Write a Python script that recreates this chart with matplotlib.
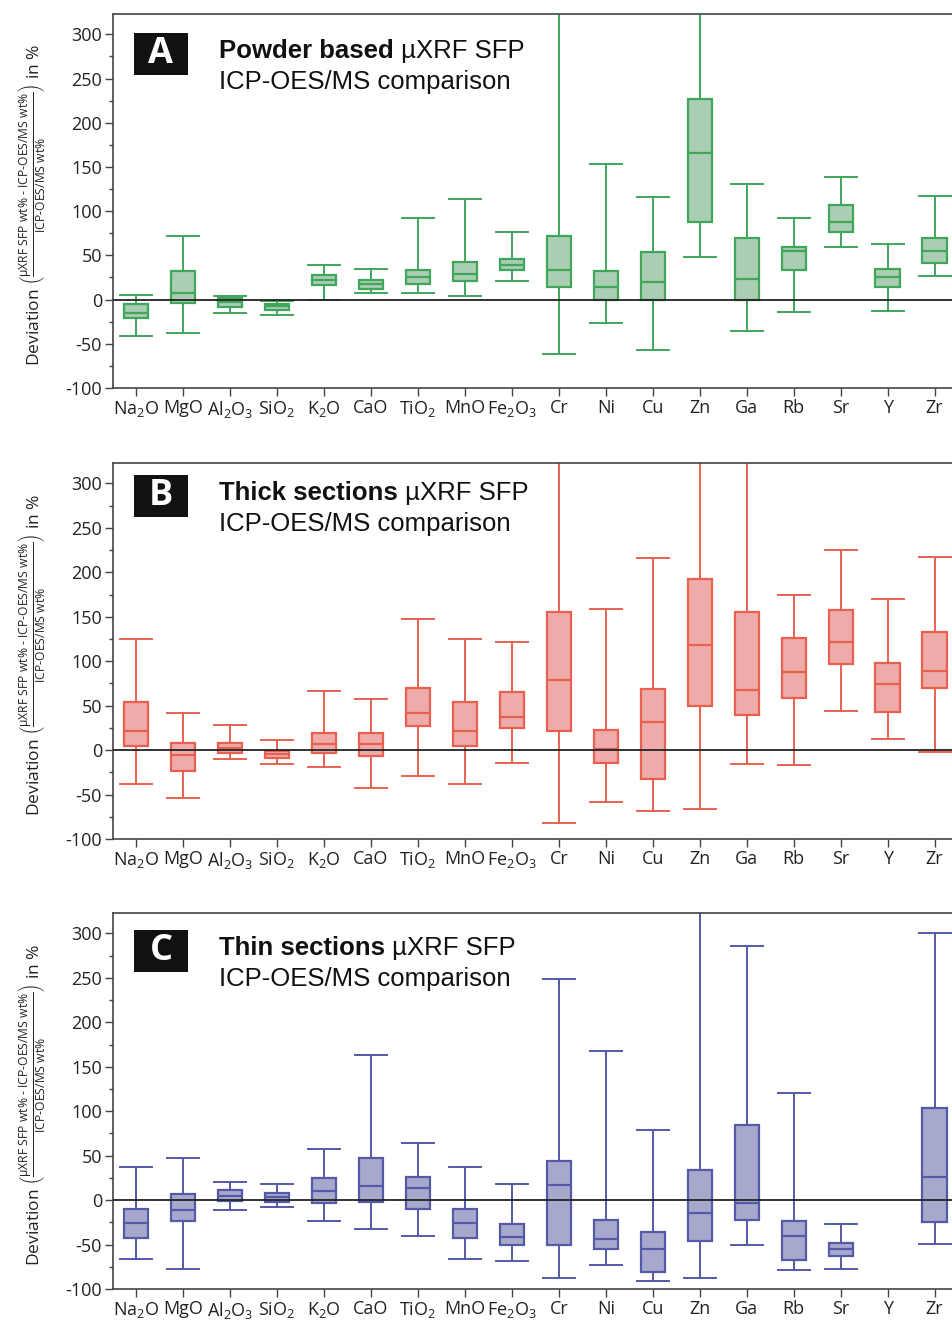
import numpy as np
import matplotlib
matplotlib.use("Agg")
import matplotlib.pyplot as plt
from matplotlib.patches import Rectangle

plt.rcParams['font.family'] = ['Open Sans', 'DejaVu Sans']
plt.rcParams['mathtext.fontset'] = 'custom'
plt.rcParams['mathtext.rm'] = 'Open Sans'
plt.rcParams['mathtext.it'] = 'Open Sans:italic'
plt.rcParams['mathtext.bf'] = 'Open Sans:bold'
plt.rcParams['axes.unicode_minus'] = False

categories = ["Na$_2$O", "MgO", "Al$_2$O$_3$", "SiO$_2$", "K$_2$O", "CaO", "TiO$_2$",
              "MnO", "Fe$_2$O$_3$", "Cr", "Ni", "Cu", "Zn", "Ga", "Rb", "Sr", "Y", "Zr"]

# panel A - powder based (low whisker, q1, median, q3, high whisker)
powder_low = [-41, -38, -15, -17, 0, 7, 7, 4.5, 21, -62, -27, -57, 48, -36, -14, 59, -13, 27]
powder_q1 = [-21, -4, -8, -12, 16.5, 12, 18, 21, 33, 14, 0, 0, 88, 0, 34, 77, 14, 41]
powder_med = [-15, 8, -2.6, -7, 22.5, 18, 25.5, 29, 39, 34, 14, 19.5, 166, 23, 55.5, 87.5, 25, 55]
powder_q3 = [-5, 32, 2, -4.5, 28, 22.5, 34, 42.5, 45.5, 71.5, 32, 54, 227, 70, 60, 107, 35, 70]
powder_high = [5, 72, 4, -2, 39, 34.5, 92, 113.5, 77, 400, 153, 116.5, 400, 130.5, 92.5, 139, 62.5, 117]

# panel B - thick sections
thick_low = [-38, -54, -10, -16, -19.5, -43, -29, -38, -15, -82, -58, -69, -66.5, -16, -17, 44, 13, -2]
thick_q1 = [5, -24, -3.5, -9, -3.5, -6.5, 27, 5, 25, 21, -15, -32, 50, 39.5, 58.5, 97, 42.5, 70]
thick_med = [22, -6, 2.5, -4, 7, 6.5, 42, 22, 37, 79, 1, 31.5, 118.5, 67.5, 88, 122, 74, 89.5]
thick_q3 = [54, 7.5, 8.5, -1, 19, 19.5, 70, 54, 65.5, 155, 23, 69, 192, 155, 126, 157.5, 98, 132.5]
thick_high = [124.5, 42, 28, 11.5, 67, 57, 148, 124.5, 122, 400, 158.5, 216, 400, 400, 174, 225.5, 169.5, 217.5]

# panel C - thin sections (no Y data)
thin_low = [-66.5, -77, -11, -8, -24, -32.5, -40, -66.5, -68, -88, -73, -91.5, -88, -50.5, -78.5, -78, np.nan, -49.5]
thin_q1 = [-43, -23.5, -1.5, -2.5, -3, -2.5, -10.5, -43, -51, -50, -55, -80.5, -45.5, -22, -67.5, -62.5, np.nan, -25]
thin_med = [-25.5, -11.5, 4.5, 3, 10, 16, 13.5, -25.5, -41.5, 17.5, -43.5, -54.5, -14.5, -3.5, -40, -54.5, np.nan, 26.5]
thin_q3 = [-10, 7, 11, 7.5, 24.5, 47, 25.5, -10, -27, 43.5, -22.5, -35.5, 34, 84, -23, -48.5, np.nan, 104]
thin_high = [37, 47.5, 20, 18.5, 57, 163, 64, 37, 18, 249, 167.5, 78.5, 400, 286, 121, -26.5, np.nan, 300]

panels = [
    ("A", "Powder based", powder_low, powder_q1, powder_med, powder_q3, powder_high,
     "#3fa65a", "#aacdb3", 44),
    ("B", "Thick sections", thick_low, thick_q1, thick_med, thick_q3, thick_high,
     "#e8604f", "#eeabaa", 37),
    ("C", "Thin sections", thin_low, thin_q1, thin_med, thin_q3, thin_high,
     "#5459a8", "#a7a9cc", 42),
]

W, H = 953, 1327
fig = plt.figure(figsize=(W / 100, H / 100), dpi=100)
axes_px = [(14, 388), (463, 839), (913, 1289)]  # top, bottom in px
left_px = 113

ylabel = (r"Deviation $\left(\frac{\text{µXRF SFP wt% - ICP-OES/MS wt%}}"
          r"{\text{ICP-OES/MS wt%}}\right)$ in %")

for (letter, bold, lo, q1, med, q3, hi, edge, fill, base_off), (top, bot) in zip(panels, axes_px):
    ax = fig.add_axes([left_px / W, 1 - bot / H, (W - left_px) / W, (bot - top) / H])
    stats, pos = [], []
    for i in range(len(categories)):
        if np.isnan(med[i]):
            continue
        stats.append(dict(whislo=lo[i], q1=q1[i], med=med[i], q3=q3[i], whishi=hi[i], fliers=[]))
        pos.append(i)
    ax.bxp(stats, positions=pos, widths=0.52, patch_artist=True, showfliers=False,
           boxprops=dict(facecolor=fill, edgecolor=edge, linewidth=1.6),
           medianprops=dict(color=edge, linewidth=1.6),
           whiskerprops=dict(color=edge, linewidth=1.4),
           capprops=dict(color=edge, linewidth=1.4),
           capwidths=0.68)
    ax.axhline(0, color="#222222", linewidth=1.3, zorder=5)

    ax.set_xlim(-0.49, 17.39)
    ax.set_ylim(-100, 323)
    ax.set_yticks(np.arange(-100, 301, 50))
    ax.set_yticks(np.arange(-75, 301, 50), minor=True)
    ax.set_xticks(range(len(categories)))
    ax.set_xticklabels(categories)
    ax.tick_params(axis='both', which='major', direction='out', length=6, width=1,
                   color="#444444", labelsize=13, labelcolor="#222222")
    ax.tick_params(axis='y', which='minor', direction='out', length=3, width=1, color="#444444")
    ax.tick_params(axis='y', pad=2)
    ax.tick_params(axis='x', pad=2)
    for s in ["left", "top", "bottom"]:
        ax.spines[s].set_color("#444444")
        ax.spines[s].set_linewidth(1.2)
    ax.spines["right"].set_visible(False)

    ph = bot - top
    # panel letter box
    box_top = 1 - (base_off - 25) / ph
    box_bot = 1 - (base_off + 17) / ph
    ax.add_patch(Rectangle((0.025, box_bot), 0.064, box_top - box_bot, transform=ax.transAxes,
                           facecolor="#111111", edgecolor="none", zorder=6))
    ax.text(0.025 + 0.032, (box_top + box_bot) / 2, letter, transform=ax.transAxes,
            ha='center', va='center', color="white", fontsize=26, fontweight='bold',
            family='Open Sans', zorder=7)

    # title
    y1 = 1 - base_off / ph
    y2 = 1 - (base_off + 31) / ph
    t1 = ax.text(0.126, y1, bold, transform=ax.transAxes, ha='left', va='baseline',
                 fontsize=18.5, fontweight='bold', family='Liberation Sans', color="#111111")
    ax.annotate(" µXRF SFP", xy=(1, 0), xycoords=t1, ha='left', va='bottom',
                fontsize=18.5, family='Liberation Sans', color="#111111")
    ax.text(0.126, y2, "ICP-OES/MS comparison", transform=ax.transAxes, ha='left',
            va='baseline', fontsize=18.5, family='Liberation Sans', color="#111111")

    fig.text(32 / W, 1 - ((top + bot) / 2 + 4) / H, ylabel, rotation=90, ha='center',
             va='center', fontsize=12.5, color="#222222")

fig.savefig("out.png", dpi=100)
